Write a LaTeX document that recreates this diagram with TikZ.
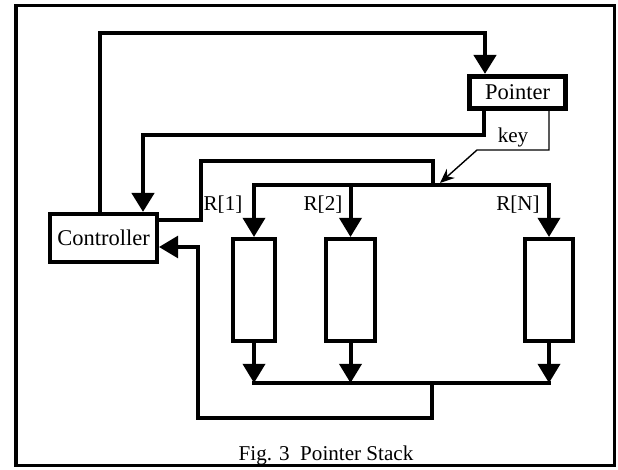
\documentclass[tikz,border=0pt]{standalone}
\usepackage{fontspec}
\setmainfont{Liberation Serif}
\usetikzlibrary{arrows.meta, positioning, calc}

\begin{document}
\begin{tikzpicture}[
    x=0.025cm, y=-0.025cm,
    >={Triangle[length=0.48cm, width=0.55cm]},
    box/.style={draw, line width=#1, fill=white, inner sep=0pt, font=\fontsize{16}{19}\selectfont},
    box/.default=0.1cm,
    regbox/.style={draw, line width=0.1cm, inner sep=0pt, minimum width=1.22cm, minimum height=2.55cm},
    wire/.style={line width=0.12cm},
    bus/.style={line width=0.1cm},
    thinbus/.style={line width=0.085cm, line cap=rect},
    lbl/.style={font=\fontsize{15}{18}\selectfont, inner sep=0pt},
]

\useasboundingbox (0,0) rectangle (618,469);
\draw[line width=0.075cm] (16,5) rectangle (614,465);

% Blocks
\node[box=0.125cm, minimum width=2.4cm, minimum height=0.8cm] (pointer) at (517.5,92.5) {Pointer};
\node[box, minimum width=2.675cm, minimum height=1.2cm] (controller) at (103.5,238) {Controller};
\node[regbox, minimum width=1.05cm] (reg1) at (254,290) {};
\node[regbox] (reg2) at (350.5,290) {};
\node[regbox] (regN) at (549,290) {};

% Junctions
\coordinate (busR) at (433,185);
\coordinate (busB) at (432,383);
\coordinate (keytip) at (440,183);

% Controller <-> Pointer
\draw[wire,->] (controller.north -| 100,0) |- (485,33) -- (pointer.north -| 485,0);
\draw[wire,->] (pointer.south -| 484,0) |- (143,135) -- (controller.north -| 143,0);

% Key
\draw[line width=0.035cm, -{Stealth[length=0.36cm, width=0.3cm]}] (pointer.south -| 549,0) |- (477,150) -- (keytip);
\node[lbl] (keylbl) at (513,137) {key};

% Select lines
\draw[bus] (controller.east |- 0,220) -- (201,220) |- (433,161) -- (busR);
\foreach \r in {reg1, reg2, regN}
  \draw[bus,->] (busR) -| (\r.north);
\node[lbl] (lblA) at (223,205) {R[1]};
\node[lbl] (lblB) at (323,205) {R[2]};
\node[lbl] (lblN) at (518,205) {R[N]};

% Outputs back to controller
\foreach \r in {reg1, reg2, regN}
  \draw[bus,->] (\r.south) -- (\r.south |- busB);
\draw[thinbus] (reg1.south |- busB) -- (regN.south |- busB);
\draw[thinbus,->] (busB) |- (198,418) |- (controller.east |- 0,247);

% Caption
\node[lbl, anchor=base] (caption) at (326,460) {Fig. 3\ \ Pointer Stack};

\end{tikzpicture}
\end{document}
